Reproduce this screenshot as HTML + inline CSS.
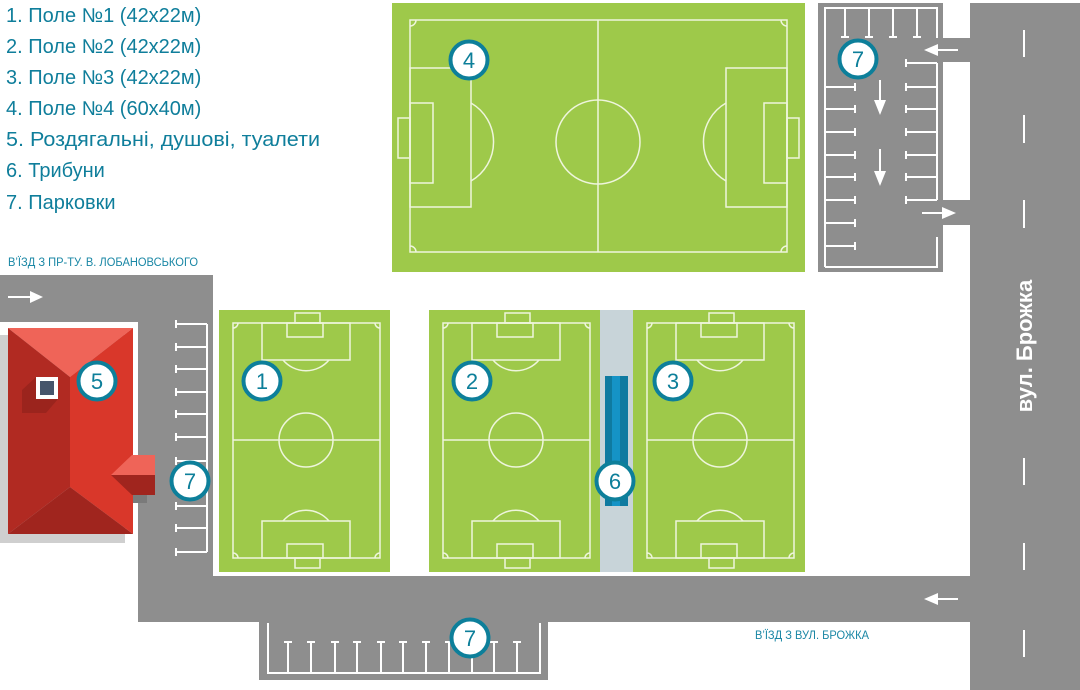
<!DOCTYPE html>
<html><head><meta charset="utf-8"><style>
html,body{margin:0;padding:0;background:#fff;width:1080px;height:690px;overflow:hidden}
svg{display:block}
text{font-family:"Liberation Sans",sans-serif}
</style></head><body>
<svg width="1080" height="690" viewBox="0 0 1080 690" xmlns="http://www.w3.org/2000/svg">
<defs>
<g id="sf" fill="none" stroke="#eef5dc" stroke-width="1.5">
<rect x="14" y="13" width="147" height="235"/>
<line x1="14" y1="130" x2="161" y2="130"/>
<circle cx="87" cy="130" r="27"/>
<rect x="43" y="13" width="88" height="37"/>
<rect x="68" y="13" width="36" height="14"/>
<rect x="76" y="3" width="25" height="10"/>
<path d="M64 50 A30 30 0 0 0 110 50"/>
<rect x="43" y="211" width="88" height="37"/>
<rect x="68" y="234" width="36" height="14"/>
<rect x="76" y="248" width="25" height="10"/>
<path d="M64 211 A30 30 0 0 1 110 211"/>
<path d="M14 18 A5 5 0 0 0 19 13 M156 13 A5 5 0 0 0 161 18 M14 243 A5 5 0 0 1 19 248 M156 248 A5 5 0 0 1 161 243"/>
</g>
<g id="mk"><circle r="18.5" fill="#fff" stroke="#0d7f9a" stroke-width="4"/></g>
</defs>

<g fill="#8e8e8e">
<rect x="970" y="3" width="110" height="687"/>
<rect x="138" y="576" width="832" height="46"/>
<rect x="138" y="275" width="75" height="347"/>
<rect x="0" y="275" width="213" height="47"/>
<rect x="259" y="622" width="289" height="58"/>
<rect x="818" y="3" width="125" height="269"/>
<rect x="943" y="38" width="27" height="24"/>
<rect x="943" y="200" width="27" height="25"/>
</g>

<g fill="#0f7e9b" font-size="20">
<text x="6" y="22">1. Поле №1 (42x22м)</text>
<text x="6" y="53">2. Поле №2 (42x22м)</text>
<text x="6" y="84">3. Поле №3 (42x22м)</text>
<text x="6" y="115">4. Поле №4 (60x40м)</text>
<text x="6" y="146" textLength="314" lengthAdjust="spacingAndGlyphs">5. Роздягальні, душові, туалети</text>
<text x="6" y="177">6. Трибуни</text>
<text x="6" y="209">7. Парковки</text>
</g>
<g fill="#1a87a5" font-size="11.5">
<text x="8" y="266" textLength="190" lengthAdjust="spacingAndGlyphs">В’ЇЗД З ПР-ТУ. В. ЛОБАНОВСЬКОГО</text>
<text x="755" y="639" textLength="114" lengthAdjust="spacingAndGlyphs">В’ЇЗД З ВУЛ. БРОЖКА</text>
</g>

<rect x="392" y="3" width="413" height="269" fill="#9ec94a"/>
<g transform="translate(392,3)" fill="none" stroke="#eef5dc" stroke-width="1.5">
<rect x="18" y="17" width="377" height="232"/>
<line x1="206" y1="17" x2="206" y2="249"/>
<circle cx="206" cy="139" r="42"/>
<rect x="18" y="65" width="61" height="139"/>
<rect x="18" y="100" width="23" height="80"/>
<rect x="6" y="115" width="12" height="40"/>
<path d="M79 100 A45 45 0 0 1 79 178"/>
<rect x="334" y="65" width="61" height="139"/>
<rect x="372" y="100" width="23" height="80"/>
<rect x="395" y="115" width="12" height="40"/>
<path d="M334 100 A45 45 0 0 0 334 178"/>
<path d="M18 23 A6 6 0 0 0 24 17 M389 17 A6 6 0 0 0 395 23 M18 243 A6 6 0 0 1 24 249 M389 249 A6 6 0 0 1 395 243"/>
</g>

<rect x="219" y="310" width="171" height="262" fill="#9ec94a"/>
<use href="#sf" transform="translate(219,310)"/>
<rect x="429" y="310" width="171" height="262" fill="#9ec94a"/>
<use href="#sf" transform="translate(429,310)"/>
<rect x="633" y="310" width="172" height="262" fill="#9ec94a"/>
<use href="#sf" transform="translate(633,310)"/>
<rect x="600" y="310" width="33" height="262" fill="#c8d4d9"/>
<rect x="605" y="376" width="23" height="130" fill="#0f7aa0"/>
<rect x="612" y="376" width="8" height="130" fill="#1593c6"/>

<rect x="0" y="335" width="125" height="208" fill="#cfcfcf"/>
<polygon points="8,328 133,328 70,377" fill="#ef6458"/>
<polygon points="8,328 70,377 70,487 8,534" fill="#b12a22"/>
<polygon points="133,328 70,377 70,487 133,534" fill="#d9372a"/>
<polygon points="8,534 70,487 133,534" fill="#a0251e"/>
<polygon points="22,390 36,377 58,399 46,413 22,413" fill="#9b241d"/>
<rect x="36" y="377" width="22" height="22" fill="#fff"/>
<rect x="40" y="381" width="14" height="14" fill="#46556b"/>
<rect x="133" y="495" width="14" height="8" fill="#7a7a7a"/>
<polygon points="111,475 132,455 155,455 155,475" fill="#ef6458"/>
<polygon points="111,475 155,475 155,495 132,495" fill="#a0251e"/>

<g stroke="#fff" stroke-width="2" fill="none">
<line x1="207" y1="324" x2="207" y2="552"/>
<path d="M176 324H207M176 347H207M176 369H207M176 392H207M176 414H207M176 437H207M176 461H207M176 483H207M176 506H207M176 528H207M176 552H207"/>
<path d="M176 320V328M176 343V351M176 365V373M176 388V396M176 410V418M176 433V441M176 457V465M176 479V487M176 502V510M176 524V532M176 548V556"/>
<path d="M825 267V8H937V38M937 63V200M937 237V267H825"/>
<path d="M845 8V37M869 8V37M893 8V37M917 8V37M841 37H849M865 37H873M889 37H897M913 37H921"/>
<path d="M825 87H855M825 109H855M825 132H855M825 155H855M825 177H855M825 200H855M825 223H855M825 246H855"/>
<path d="M855 83V91M855 105V113M855 128V136M855 151V159M855 173V181M855 196V204M855 219V227M855 242V250"/>
<path d="M906 63H937M906 87H937M906 109H937M906 132H937M906 155H937M906 177H937M906 200H937"/>
<path d="M906 59V67M906 83V91M906 105V113M906 128V136M906 151V159M906 173V181M906 196V204"/>
<path d="M268 623V673H540V623"/>
<path d="M288 642V673M311 642V673M335 642V673M357 642V673M381 642V673M403 642V673M426 642V673M449 642V673M472 642V673M494 642V673M517 642V673"/>
<path d="M284 642H292M307 642H315M331 642H339M353 642H361M377 642H385M399 642H407M422 642H430M445 642H453M468 642H476M490 642H498M513 642H521"/>
<path d="M1024 30V57M1024 115V143M1024 200V228M1024 458V485M1024 543V570M1024 630V657"/>
<line x1="8" y1="297" x2="32" y2="297"/>
<line x1="938" y1="599" x2="958" y2="599"/>
<line x1="938" y1="50" x2="958" y2="50"/>
<line x1="922" y1="213" x2="942" y2="213"/>
<line x1="880" y1="80" x2="880" y2="102"/>
<line x1="880" y1="149" x2="880" y2="173"/>
</g>
<g fill="#fff">
<polygon points="30,291 43,297 30,303"/>
<polygon points="938,593 924,599 938,605"/>
<polygon points="938,44 924,50 938,56"/>
<polygon points="942,207 956,213 942,219"/>
<polygon points="874,100 880,115 886,100"/>
<polygon points="874,171 880,186 886,171"/>
</g>
<text transform="translate(1032,346) rotate(-90)" text-anchor="middle" fill="#fff" font-size="22" font-weight="bold">вул. Брожка</text>

<g font-size="22" fill="#0d7f9a" text-anchor="middle">
<use href="#mk" x="469" y="60"/><text x="469" y="68">4</text>
<use href="#mk" x="858" y="59"/><text x="858" y="67">7</text>
<use href="#mk" x="97" y="381"/><text x="97" y="389">5</text>
<use href="#mk" x="262" y="381"/><text x="262" y="389">1</text>
<use href="#mk" x="472" y="381"/><text x="472" y="389">2</text>
<use href="#mk" x="673" y="381"/><text x="673" y="389">3</text>
<use href="#mk" x="615" y="481"/><text x="615" y="489">6</text>
<use href="#mk" x="190" y="481"/><text x="190" y="489">7</text>
<use href="#mk" x="470" y="638"/><text x="470" y="646">7</text>
</g>
</svg>
</body></html>
